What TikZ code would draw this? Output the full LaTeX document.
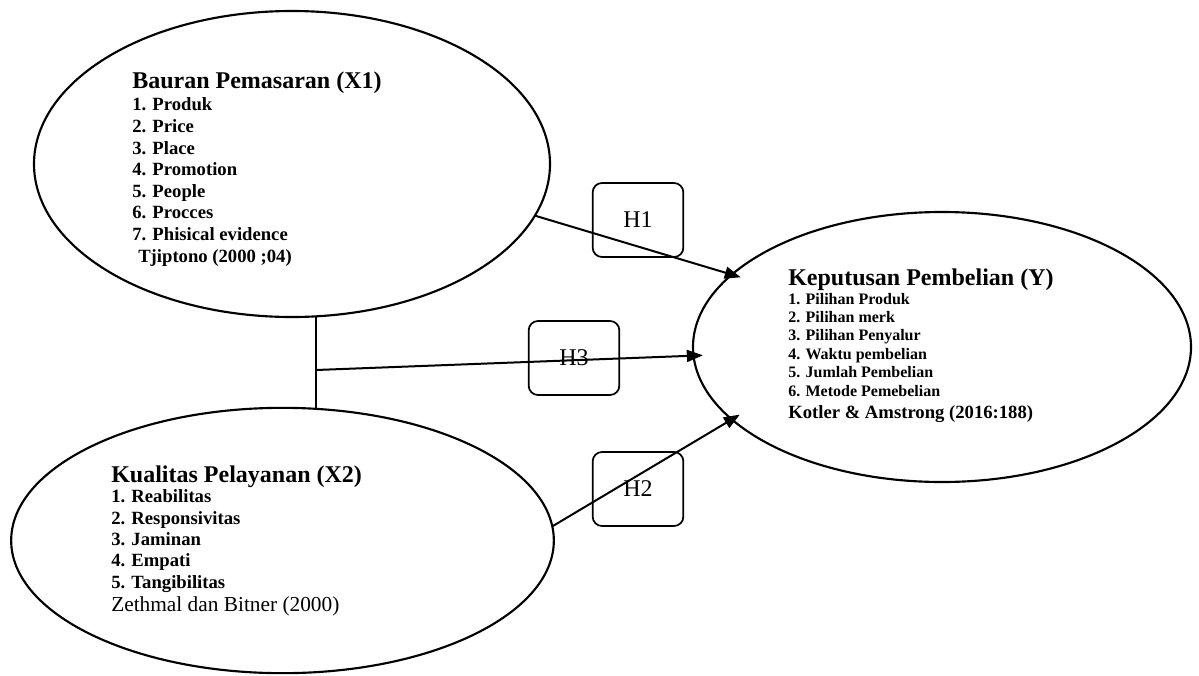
\documentclass[tikz,border=0pt]{standalone}
\usepackage{fontspec}
\setmainfont{Liberation Serif}
\usetikzlibrary{shapes.geometric,arrows.meta}
\begin{document}
\begin{tikzpicture}[x=0.75pt,y=-0.75pt,
  var/.style={ellipse, draw, line width=1.6pt, inner sep=0pt, outer sep=0pt},
  hbox/.style={draw, rounded corners=7pt, line width=1.3pt, minimum width=68pt, minimum height=55.5pt, inner sep=0pt, font=\fontsize{18}{20}\selectfont},
  lbl/.style={anchor=base west, inner sep=0pt, align=left},
  arr/.style={line width=1.5pt, -{Triangle[length=12pt,width=9pt]}, shorten >=-7pt}]
\useasboundingbox (0,0) rectangle (1199,675);
\node[var, minimum width=387pt, minimum height=229.5pt] (x1) at (292,164){};
\node[var, minimum width=407pt, minimum height=199pt] (x2) at (282.5,540.5){};
\node[var, minimum width=373.5pt, minimum height=202.5pt] (y) at (942,347){};
\node[lbl, font=\fontsize{18}{20}\selectfont\bfseries] (x1t) at (132,88){Bauran Pemasaran (X1)};
\node[lbl, font=\fontsize{14}{16.2}\selectfont\bfseries] (x1i) at (132,262){1. Produk\\2. Price\\3. Place\\4. Promotion\\5. People\\6. Procces\\7. Phisical evidence\\\hspace{4.5pt}Tjiptono (2000 ;04)};
\node[lbl, font=\fontsize{18}{20}\selectfont\bfseries] (x2t) at (111,482){Kualitas Pelayanan (X2)};
\node[lbl, font=\fontsize{14}{16}\selectfont\bfseries] (x2i) at (111,588){1. Reabilitas\\2. Responsivitas\\3. Jaminan\\4. Empati\\5. Tangibilitas};
\node[lbl, font=\fontsize{16}{18}\selectfont] (x2s) at (111,611.7){Zethmal dan Bitner (2000)};
\node[lbl, font=\fontsize{18}{20}\selectfont\bfseries] (yt) at (788,285){Keputusan Pembelian (Y)};
\node[lbl, font=\fontsize{12}{13.8}\selectfont\bfseries] (yi) at (788,396){1. Pilihan Produk\\2. Pilihan merk\\3. Pilihan Penyalur\\4. Waktu pembelian\\5. Jumlah Pembelian\\6. Metode Pemebelian};
\node[lbl, font=\fontsize{14}{16}\selectfont\bfseries] (ys) at (788,418){Kotler \& Amstrong (2016:188)};
\node[hbox] (h1) at (638,220){H1};
\node[hbox] (h3) at (574,358){H3};
\node[hbox] (h2) at (638,489){H2};
\coordinate (jn) at (316,370);
\draw[line width=0.8pt] (jn |- x1.south) -- (jn |- x2.north);
\draw[arr] (x1.-12) -- (y.161);
\draw[arr] (jn) -- (y.182);
\draw[arr] (x2.3) -- (y.199);
\end{tikzpicture}
\end{document}
